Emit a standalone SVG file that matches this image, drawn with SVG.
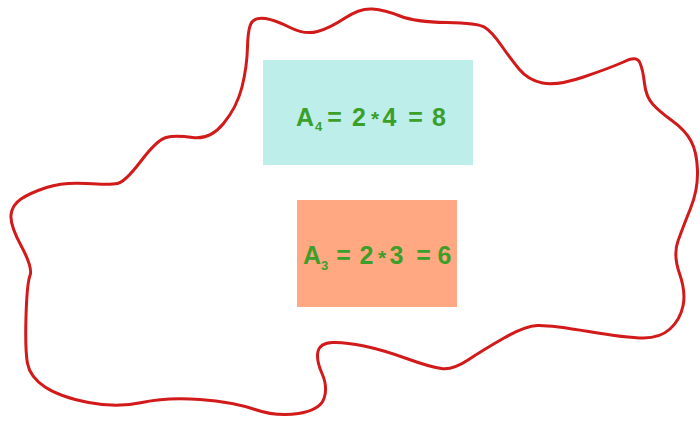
<svg xmlns="http://www.w3.org/2000/svg" width="700" height="425" viewBox="0 0 700 425">
<style>
.eq{font-family:"Liberation Sans",Arial,sans-serif;font-weight:bold;fill:#3c9f2a;text-anchor:middle}
.m{font-size:25px}
.s{font-size:13px}
.st{font-size:21px}
</style>
<rect width="700" height="425" fill="#ffffff"/>
<g id="outline">
<path fill="none" stroke="#d21a1a" stroke-width="3" stroke-linejoin="round" d="M247.5,47 Q248,27 252,22 Q256,17 265.5,18.5 Q275,20 290,27.5 Q305,35 317.5,31.5 Q330,28 345,18 Q360,8 372.5,9 Q385,10 400,16 Q415,22 446.5,22.5 Q478,23 485,27.5 Q492,32 501,45 Q510,58 519,69 Q528,80 542.5,83 Q557,86 583.5,77 Q610,68 623.5,62 Q637,55 640,63 Q643,70 644.5,83.5 Q646,97 653,104.5 Q660,112 672.5,121 Q685,130 691,141 Q697,152 697.5,171 Q698,190 690.5,208.5 Q683,227 678,241 Q673,255 679.5,273.5 Q686,292 683,306 Q680,320 670,329 Q660,338 643.5,338 Q627,338 588.5,331.5 Q550,325 537.5,325.5 Q525,326 504,338 Q483,350 468,360 Q453,370 441.5,368.5 Q430,367 406.5,358.5 Q383,350 364,346 Q345,342 332.5,342.5 Q320,343 318,351.5 Q316,360 322,373.5 Q328,387 324,398.5 Q320,410 298.5,413.5 Q277,417 255,409.5 Q233,402 200,399.5 Q167,397 142,402.5 Q117,408 88.5,402.5 Q60,397 45,387 Q30,377 27.5,363.5 Q25,350 26,316.5 Q27,283 30,275.5 Q33,268 21.5,246.5 Q10,225 11,215 Q12,205 21,199 Q30,193 46.5,187.5 Q63,182 86.5,183.5 Q110,185 117.5,183.5 Q125,182 141,161 Q157,140 166,137.5 Q175,135 192.5,137.5 Q210,140 223.5,123.5 Q237,107 242,87 Q247,67 247.5,47 Z"/>
</g>
<g id="box-a4">
<rect x="263" y="60" width="210" height="105" fill="#bdeeea"/>
<text class="eq m" y="126"><tspan x="305">A</tspan></text>
<text class="eq s" x="318.5" y="131">4</text>
<text class="eq m" y="126"><tspan x="334.5">=</tspan><tspan x="359">2</tspan></text>
<text class="eq st" x="375" y="126">*</text>
<text class="eq m" y="126"><tspan x="389.5">4</tspan><tspan x="415.5">=</tspan><tspan x="439">8</tspan></text>
</g>
<g id="box-a3">
<rect x="297" y="200" width="160" height="107" fill="#ffa882"/>
<text class="eq m" y="264"><tspan x="312">A</tspan></text>
<text class="eq s" x="324.5" y="270">3</text>
<text class="eq m" y="264"><tspan x="343.5">=</tspan><tspan x="366.5">2</tspan></text>
<text class="eq st" x="382" y="265">*</text>
<text class="eq m" y="264"><tspan x="396.5">3</tspan><tspan x="423.5">=</tspan><tspan x="444.5">6</tspan></text>
</g>
</svg>
